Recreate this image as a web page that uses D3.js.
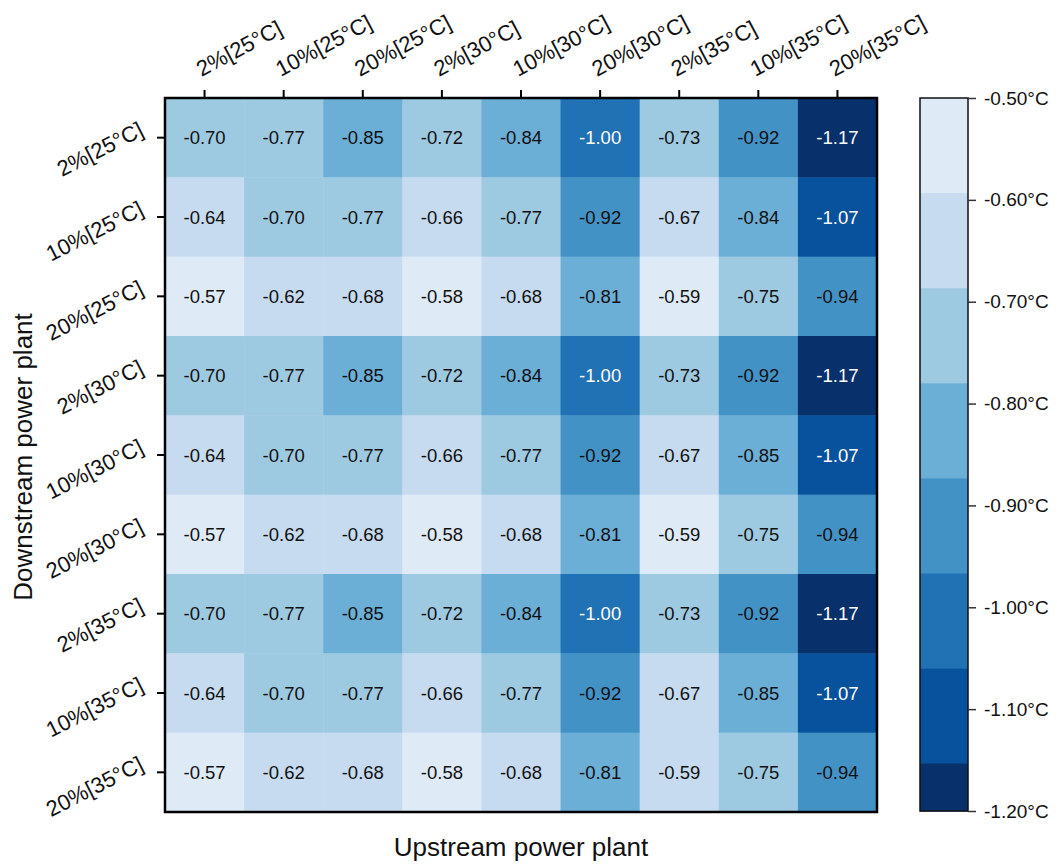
<!DOCTYPE html>
<html>
<head>
<meta charset="utf-8">
<script src="https://cdn.jsdelivr.net/npm/d3@7"></script>
<style>
  html, body { margin: 0; padding: 0; background: #fff; }
  svg { display: block; font-family: "Liberation Sans", Arial, sans-serif; }
</style>
</head>
<body>
<svg id="chart" width="1057" height="866"></svg>
<script>
// Upstream (columns) and downstream (rows) scenarios
const upstream = ["2%[25°C]", "10%[25°C]", "20%[25°C]", "2%[30°C]", "10%[30°C]", "20%[30°C]", "2%[35°C]", "10%[35°C]", "20%[35°C]"];
const downstream = ["2%[25°C]", "10%[25°C]", "20%[25°C]", "2%[30°C]", "10%[30°C]", "20%[30°C]", "2%[35°C]", "10%[35°C]", "20%[35°C]"];

// Temperature change (°C), one array per downstream row, ordered by upstream column
const row_2_25  = [-0.70, -0.77, -0.85, -0.72, -0.84, -1.00, -0.73, -0.92, -1.17];
const row_10_25 = [-0.64, -0.70, -0.77, -0.66, -0.77, -0.92, -0.67, -0.84, -1.07];
const row_20_25 = [-0.57, -0.62, -0.68, -0.58, -0.68, -0.81, -0.59, -0.75, -0.94];
const row_2_30  = [-0.70, -0.77, -0.85, -0.72, -0.84, -1.00, -0.73, -0.92, -1.17];
const row_10_30 = [-0.64, -0.70, -0.77, -0.66, -0.77, -0.92, -0.67, -0.85, -1.07];
const row_20_30 = [-0.57, -0.62, -0.68, -0.58, -0.68, -0.81, -0.59, -0.75, -0.94];
const row_2_35  = [-0.70, -0.77, -0.85, -0.72, -0.84, -1.00, -0.73, -0.92, -1.17];
const row_10_35 = [-0.64, -0.70, -0.77, -0.66, -0.77, -0.92, -0.67, -0.85, -1.07];
const row_20_35 = [-0.57, -0.62, -0.68, -0.58, -0.68, -0.81, -0.594, -0.75, -0.94];
const rows = [row_2_25, row_10_25, row_20_25, row_2_30, row_10_30, row_20_30, row_2_35, row_10_35, row_20_35];

// Colour bar range and tick values
const barMax = -0.50;
const barMin = -1.20;
const barTicks = [-0.50, -0.60, -0.70, -0.80, -0.90, -1.00, -1.10, -1.20];
const levelColors = ["#deebf7", "#c6dbef", "#9ecae1", "#6baed6", "#4292c6", "#2171b5", "#08519c", "#08306b"];

// Levels step down from the top of the bar in equal steps; the last one is cut short
const levelStep = (barMax - barMin) / 7.5;
const levelEdges = levelColors.map((_, i) => barMax - i * levelStep).concat([barMin]);
const color = d3.scaleThreshold()
  .domain(levelEdges.slice(1, -1).slice().reverse())
  .range(levelColors.slice().reverse());

const svg = d3.select("#chart");
const M = { left: 165, top: 98, right: 877, bottom: 812 };

const x = d3.scaleBand().domain(upstream).range([M.left, M.right]);
const y = d3.scaleBand().domain(downstream).range([M.top, M.bottom]);

const cells = [];
rows.forEach((vals, r) => vals.forEach((v, c) => cells.push({ row: downstream[r], col: upstream[c], v })));

// Heatmap cells
svg.append("g").selectAll("rect").data(cells).join("rect")
  .attr("x", d => x(d.col))
  .attr("y", d => y(d.row))
  .attr("width", x.bandwidth() + 0.5)
  .attr("height", y.bandwidth() + 0.5)
  .attr("fill", d => color(d.v));

// Value labels
svg.append("g").selectAll("text").data(cells).join("text")
  .attr("x", d => x(d.col) + x.bandwidth() / 2)
  .attr("y", d => y(d.row) + y.bandwidth() / 2)
  .attr("dy", "0.36em")
  .attr("text-anchor", "middle")
  .attr("font-size", 18.5)
  .attr("fill", d => d.v < levelEdges[5] ? "#ffffff" : "#111111")
  .text(d => d.v.toFixed(2));

// Frame
svg.append("rect")
  .attr("x", M.left).attr("y", M.top)
  .attr("width", M.right - M.left).attr("height", M.bottom - M.top)
  .attr("fill", "none").attr("stroke", "#000").attr("stroke-width", 2.5);

// Top axis (upstream)
const xAxis = svg.append("g").attr("transform", `translate(0,${M.top})`)
  .call(d3.axisTop(x).tickSize(8).tickPadding(0));
xAxis.select(".domain").remove();
xAxis.selectAll(".tick line").attr("stroke", "#000").attr("stroke-width", 2);
xAxis.selectAll(".tick text")
  .attr("font-size", 22)
  .attr("fill", "#111")
  .attr("text-anchor", "start")
  .attr("transform", "translate(-3,-21) rotate(-28)")
  .attr("y", 0).attr("dy", 0);

// Left axis (downstream)
const yAxis = svg.append("g").attr("transform", `translate(${M.left},0)`)
  .call(d3.axisLeft(y).tickSize(8).tickPadding(0));
yAxis.select(".domain").remove();
yAxis.selectAll(".tick line").attr("stroke", "#000").attr("stroke-width", 2);
yAxis.selectAll(".tick text")
  .attr("font-size", 22)
  .attr("fill", "#111")
  .attr("text-anchor", "end")
  .attr("transform", "translate(-20,-3) rotate(-27)")
  .attr("x", 0).attr("dy", 0);

// Axis titles
svg.append("text")
  .attr("x", (M.left + M.right) / 2).attr("y", 856)
  .attr("text-anchor", "middle").attr("font-size", 26).attr("fill", "#111")
  .text("Upstream power plant");
svg.append("text")
  .attr("transform", `translate(32,${(M.top + M.bottom) / 2 + 2}) rotate(-90)`)
  .attr("text-anchor", "middle").attr("font-size", 26).attr("fill", "#111")
  .text("Downstream power plant");

// Colour bar
const cb = { x: 920, w: 48 };
const yc = d3.scaleLinear().domain([barMax, barMin]).range([M.top, 811]);
const bins = levelColors.map((c, i) => ({ c, hi: levelEdges[i], lo: levelEdges[i + 1] }));
svg.append("g").selectAll("rect").data(bins).join("rect")
  .attr("x", cb.x).attr("width", cb.w)
  .attr("y", d => yc(d.hi))
  .attr("height", d => yc(d.lo) - yc(d.hi) + 0.5)
  .attr("fill", d => d.c);
svg.append("rect")
  .attr("x", cb.x).attr("y", yc(barMax))
  .attr("width", cb.w).attr("height", yc(barMin) - yc(barMax))
  .attr("fill", "none").attr("stroke", "#111").attr("stroke-width", 1.5);

const cAxis = svg.append("g").attr("transform", `translate(${cb.x + cb.w},0)`)
  .call(d3.axisRight(yc).tickValues(barTicks).tickSize(8).tickPadding(8)
    .tickFormat(d => d3.format(".2f")(d).replace("−", "-") + "°C"));
cAxis.select(".domain").remove();
cAxis.selectAll(".tick line").attr("stroke", "#333").attr("stroke-width", 1.5);
cAxis.selectAll(".tick text").attr("font-size", 19).attr("fill", "#111");
</script>
</body>
</html>
